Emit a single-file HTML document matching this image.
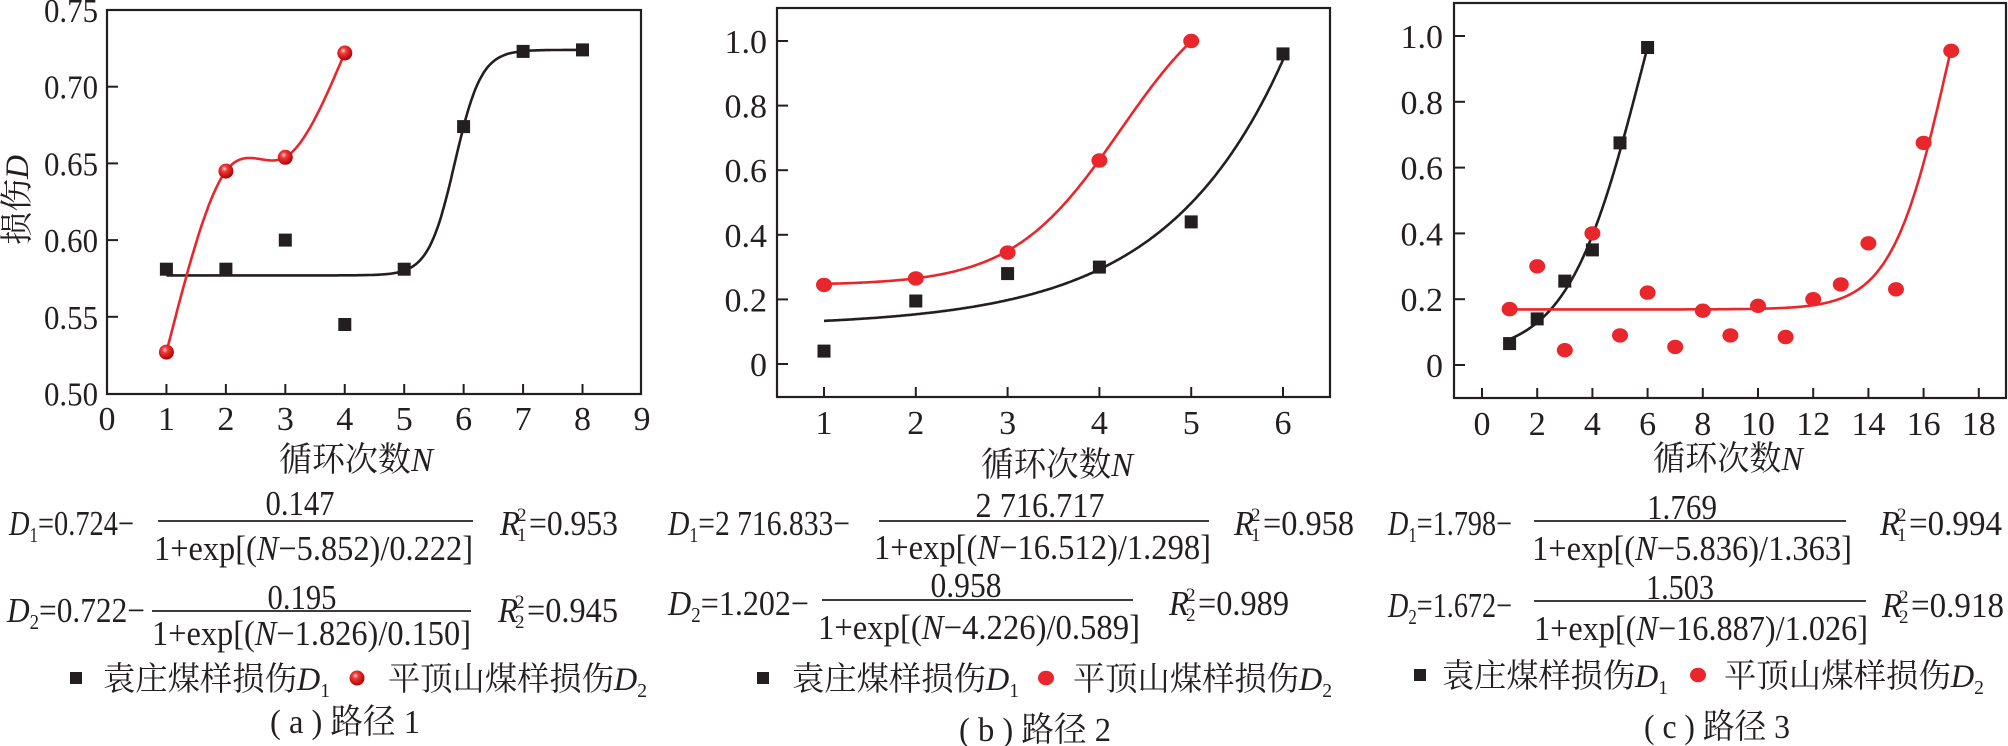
<!DOCTYPE html>
<html><head><meta charset="utf-8"><style>
html,body{margin:0;padding:0;background:#fff;}
svg{display:block;}
text{font-family:"Liberation Serif","Noto Serif CJK SC","Noto Sans CJK SC",serif;fill:#231f20;}
</style></head><body>
<svg id="s" width="2008" height="746" viewBox="0 0 2008 746" xmlns="http://www.w3.org/2000/svg">
<defs>
<radialGradient id="ball" cx="0.4" cy="0.35" r="0.65">
<stop offset="0" stop-color="#ffd0d0"/><stop offset="0.3" stop-color="#f03a3a"/><stop offset="1" stop-color="#b00000"/>
</radialGradient>
</defs>
</svg>
<script>
var S=document.getElementById('s'),out='';
var RED='#e8262b',BLK='#231f20',FS=35;
function fmt(v){return v.toFixed(1);}
function line(x1,y1,x2,y2,w,c){out+='<line x1="'+x1+'" y1="'+y1+'" x2="'+x2+'" y2="'+y2+'" stroke="'+(c||BLK)+'" stroke-width="'+(w||2)+'"/>';}
function txt(x,y,s,opt){opt=opt||'';out+='<text x="'+x+'" y="'+y+'" '+opt+'>'+s+'</text>';}
function frame(x1,y1,x2,y2){out+='<rect x="'+x1+'" y="'+y1+'" width="'+(x2-x1)+'" height="'+(y2-y1)+'" fill="none" stroke="'+BLK+'" stroke-width="2.2"/>';}
function curve(f,a,b,X,Y,c){var d='';for(var i=0;i<=300;i++){var n=a+(b-a)*i/300;d+=(i?'L':'M')+fmt(X(n))+','+fmt(Y(f(n)));}out+='<path d="'+d+'" fill="none" stroke="'+c+'" stroke-width="2.6"/>';}
function sq(x,y,s){s=s||13;out+='<rect x="'+fmt(x-s/2)+'" y="'+fmt(y-s/2)+'" width="'+s+'" height="'+s+'" fill="'+BLK+'"/>';}
function dot(x,y){out+='<ellipse cx="'+fmt(x)+'" cy="'+fmt(y)+'" rx="8" ry="7.2" fill="'+RED+'"/>';}
function ball(x,y){out+='<circle cx="'+fmt(x)+'" cy="'+fmt(y)+'" r="7.5" fill="url(#ball)"/>';}
function logi(A,B,c,w){return function(n){return A-B/(1+Math.exp((n-c)/w));};}
function spline(xs,ys){var n=xs.length,h=[],al=[],l=[1],mu=[0],z=[0],c=new Array(n).fill(0),b=[],d=[];
for(var i=0;i<n-1;i++)h[i]=xs[i+1]-xs[i];
for(i=1;i<n-1;i++)al[i]=3/h[i]*(ys[i+1]-ys[i])-3/h[i-1]*(ys[i]-ys[i-1]);
for(i=1;i<n-1;i++){l[i]=2*(xs[i+1]-xs[i-1])-h[i-1]*mu[i-1];mu[i]=h[i]/l[i];z[i]=(al[i]-h[i-1]*z[i-1])/l[i];}
for(var j=n-2;j>=0;j--){c[j]=z[j]-mu[j]*c[j+1];b[j]=(ys[j+1]-ys[j])/h[j]-h[j]*(c[j+1]+2*c[j])/3;d[j]=(c[j+1]-c[j])/(3*h[j]);}
return function(x){var k=0;while(k<n-2&&x>xs[k+1])k++;var t=x-xs[k];return ys[k]+b[k]*t+c[k]*t*t+d[k]*t*t*t;};}
function tl(x1,x2,y,s,fs){txt(x1,y,s,'font-size="'+(fs||FS)+'" textLength="'+(x2-x1)+'" lengthAdjust="spacingAndGlyphs"');}
function formula(o){
 tl(o.l[0],o.l[1],o.lb,'<tspan font-style="italic">D</tspan><tspan font-size="21" dy="7">'+o.i+'</tspan><tspan dy="-7">='+o.a+'−</tspan>');
 tl(o.nc-o.nw/2,o.nc+o.nw/2,o.nb,o.num);
 line(o.ln[0],o.ly,o.ln[1],o.ly,1.8);
 tl(o.d[0],o.d[1],o.db,'1+exp[(<tspan font-style="italic">N</tspan>−'+o.den+']');
 var rx=o.r[0];
 tl(rx,rx+20,o.lb,'<tspan font-style="italic">R</tspan>');
 txt(rx+17,o.lb-14,'2','font-size="19"');
 txt(rx+17,o.lb+6,o.i,'font-size="19"');
 tl(rx+29,o.r[1],o.lb,'='+o.rv);
}
function legend(y,sx,t1,dx,t2,isBall){
 sq(sx,y,12);
 tl(t1[0],t1[1],y+12,'袁庄煤样损伤<tspan font-style="italic">D</tspan><tspan font-size="20" dy="7">1</tspan>',33);
 if(isBall)ball(dx,y);else dot(dx,y);
 tl(t2[0],t2[1],y+12,'平顶山煤样损伤<tspan font-style="italic">D</tspan><tspan font-size="20" dy="7">2</tspan>',33);
}
var TF='font-size="34" text-anchor="middle"',TE='font-size="34" text-anchor="end"';
/* A */
(function(){
var X=function(n){return 107+n*59.44;},Y=function(v){return 10+(0.75-v)/0.05*76.7;};
frame(107,10,641,394);
for(var i=1;i<=8;i++)line(X(i),394,X(i),384);
for(i=0;i<=9;i++)txt(X(i),430,i,TF);
[0.50,0.55,0.60,0.65,0.70,0.75].forEach(function(v){if(v>0.5&&v<0.75)line(107,Y(v),118,Y(v));tl(44,98,Y(v)+12,v.toFixed(2),34);});
txt(17,200,'损伤<tspan font-style="italic">D</tspan>','font-size="33" text-anchor="middle" transform="rotate(-90 17 200) translate(0 11)"');
tl(279,433,471,'循环次数<tspan font-style="italic">N</tspan>',34);
curve(logi(0.724,0.147,5.852,0.222),1,8,X,Y,BLK);
var rx=[1,2,3,4],ry=[0.527,0.645,0.654,0.722];
curve(spline(rx,ry),1,4,X,Y,RED);
[[1,.581],[2,.581],[3,.600],[4,.545],[5,.581],[6,.674],[7,.723],[8,.724]].forEach(function(p){sq(X(p[0]),Y(p[1]));});
rx.forEach(function(x,k){ball(X(x),Y(ry[k]));});
formula({l:[9,134],lb:535,i:1,a:'0.724',nc:300,nw:69,nb:515,num:'0.147',ln:[158,473],ly:521,d:[154,473],db:560,den:'5.852)/0.222',r:[500,618],rv:'0.953'});
formula({l:[7,145],lb:622,i:2,a:'0.722',nc:302,nw:69,nb:609,num:'0.195',ln:[152,471],ly:611,d:[152,471],db:645,den:'1.826)/0.150',r:[498,618],rv:'0.945'});
legend(678,76,[103,330],357,[388,647],true);
tl(270,420,733,'( a ) 路径 1',34);
})();
/* B */
(function(){
var X=function(n){return 824+(n-1)*91.8;},Y=function(v){return 364-v*323;};
frame(777,8,1330,397);
for(var i=1;i<=6;i++){line(X(i),397,X(i),387);txt(X(i),434,i,TF);}
[0,0.2,0.4,0.6,0.8,1.0].forEach(function(v){line(777,Y(v),788,Y(v));txt(767,Y(v)+12,v===0?'0':v.toFixed(1),TE);});
tl(981,1133,476,'循环次数<tspan font-style="italic">N</tspan>',34);
curve(logi(2716.833,2716.717,16.512,1.298),1,6,X,Y,BLK);
curve(logi(1.202,0.958,4.226,0.589),1,5,X,Y,RED);
[[1,.04],[2,.195],[3,.28],[4,.30],[5,.44],[6,.96]].forEach(function(p){sq(X(p[0]),Y(p[1]));});
[[1,.245],[2,.265],[3,.345],[4,.63],[5,1.0]].forEach(function(p){dot(X(p[0]),Y(p[1]));});
formula({l:[668,850],lb:535,i:1,a:'2 716.833',nc:1040,nw:129,nb:517,num:'2 716.717',ln:[879,1209],ly:521,d:[874,1211],db:559,den:'16.512)/1.298',r:[1234,1354],rv:'0.958'});
formula({l:[668,809],lb:615,i:2,a:'1.202',nc:966,nw:71,nb:597,num:'0.958',ln:[822,1133],ly:600,d:[818,1140],db:639,den:'4.226)/0.589',r:[1169,1289],rv:'0.989'});
legend(678,763,[792,1019],1046,[1073,1332],false);
tl(959,1111,741,'( b ) 路径 2',34);
})();
/* C */
(function(){
var X=function(n){return 1482+n*27.6;},Y=function(v){return 365-v*329;};
frame(1454,3,2006,398);
for(var i=0;i<=18;i+=2){line(X(i),398,X(i),388);txt(X(i),435,i,TF);}
[0,0.2,0.4,0.6,0.8,1.0].forEach(function(v){line(1454,Y(v),1465,Y(v));txt(1443,Y(v)+12,v===0?'0':v.toFixed(1),TE);});
tl(1653,1803,470,'循环次数<tspan font-style="italic">N</tspan>',34);
curve(logi(1.798,1.769,5.836,1.363),1,6,X,Y,BLK);
curve(logi(1.672,1.503,16.887,1.026),1,17,X,Y,RED);
[[1,.065],[2,.14],[3,.255],[4,.35],[5,.675],[6,.965]].forEach(function(p){sq(X(p[0]),Y(p[1]));});
[.17,.30,.045,.40,.09,.22,.055,.165,.09,.18,.085,.20,.245,.37,.23,.675,.955].forEach(function(v,k){dot(X(k+1),Y(v));});
formula({l:[1388,1512],lb:535,i:1,a:'1.798',nc:1682,nw:70,nb:519,num:'1.769',ln:[1534,1846],ly:521,d:[1532,1852],db:560,den:'5.836)/1.363',r:[1880,2002],rv:'0.994'});
formula({l:[1388,1512],lb:617,i:2,a:'1.672',nc:1680,nw:68,nb:599,num:'1.503',ln:[1534,1866],ly:601,d:[1534,1868],db:640,den:'16.887)/1.026',r:[1882,2004],rv:'0.918'});
legend(675,1420,[1442,1668],1698,[1724,1984],false);
tl(1644,1790,738,'( c ) 路径 3',34);
})();
S.insertAdjacentHTML('beforeend',out);
</script>
</body></html>
